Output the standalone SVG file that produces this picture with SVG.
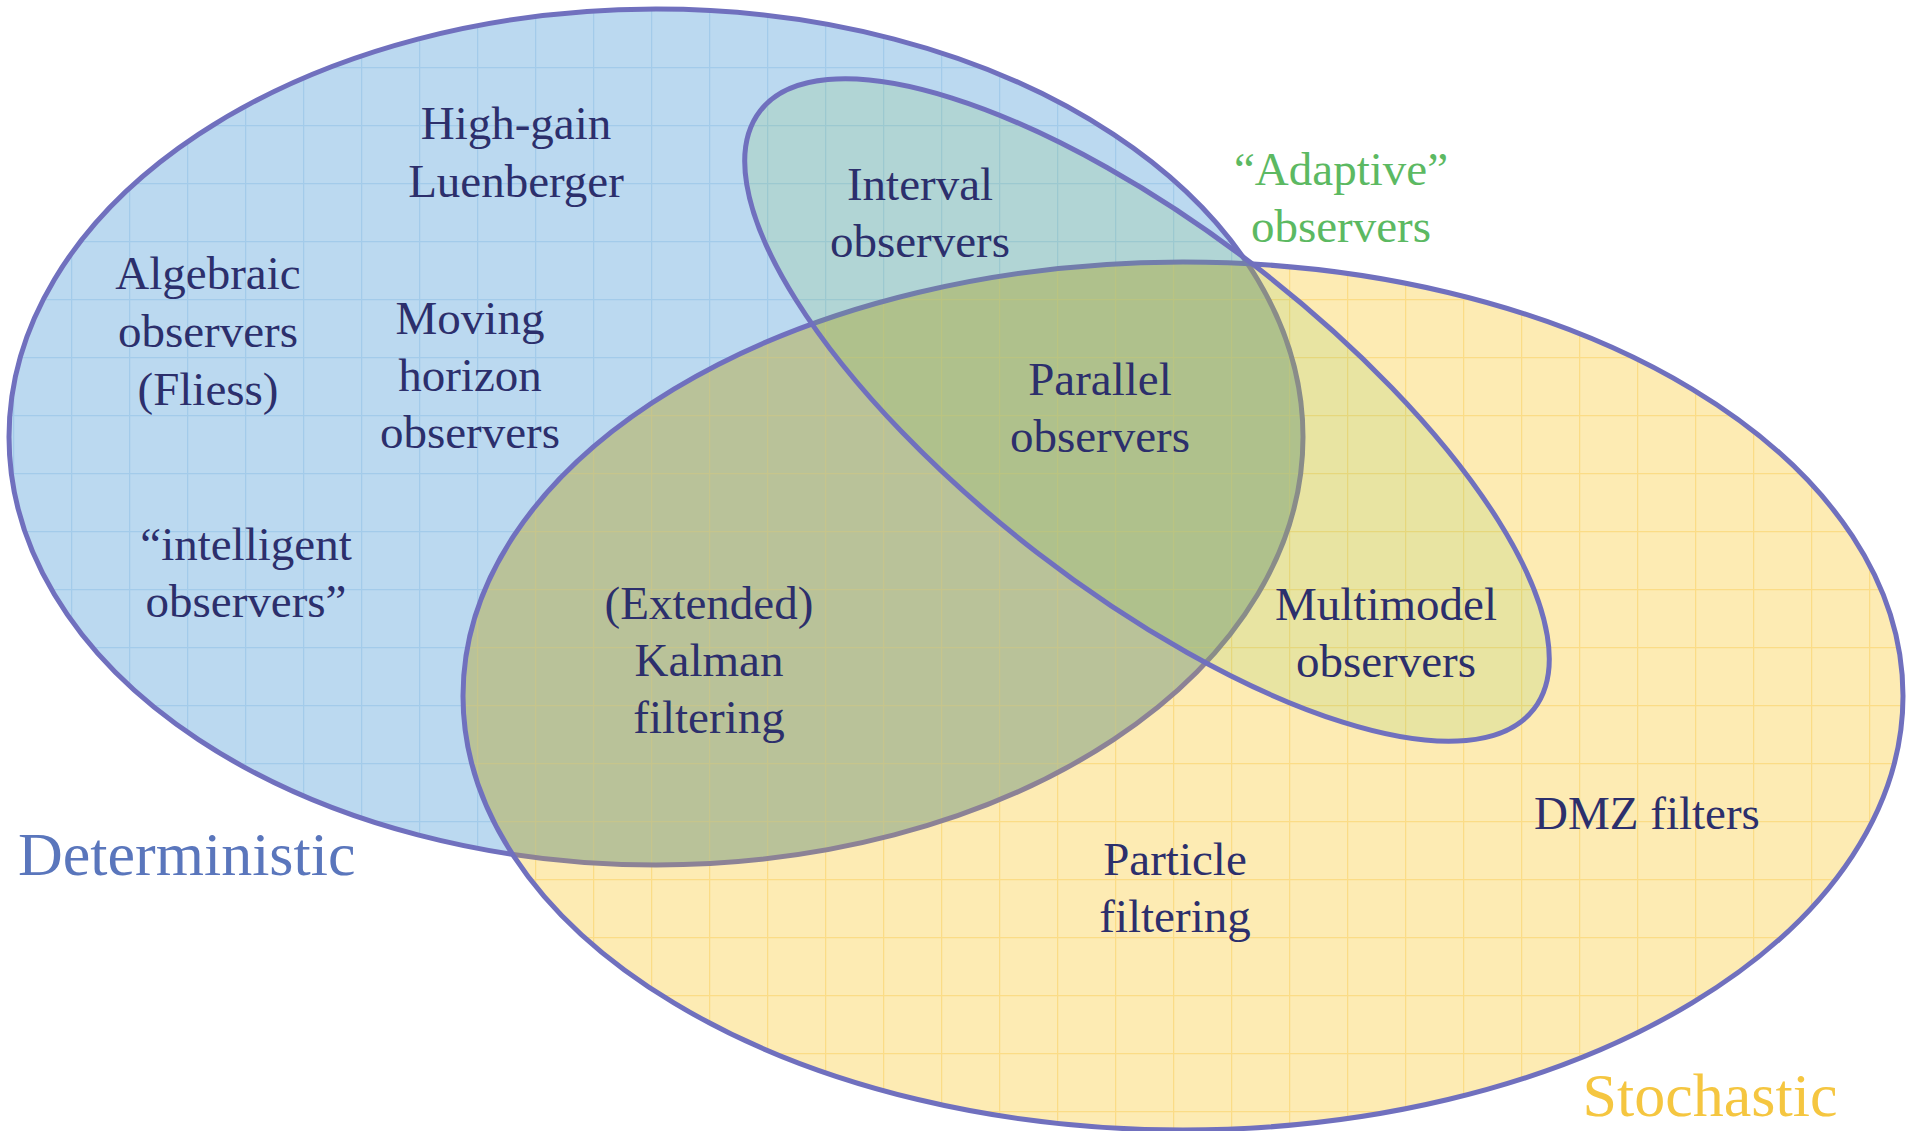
<svg xmlns="http://www.w3.org/2000/svg" width="1908" height="1131" viewBox="0 0 1908 1131">
<style>
.lbl{font-family:"Liberation Serif","Times New Roman",serif;font-size:47px;fill:#2c2f6c;text-anchor:middle}
.big{font-family:"Liberation Serif","Times New Roman",serif;font-size:62px}
.edge{fill:none;stroke:#7070be;stroke-width:5}
</style>
<defs>
<pattern id="pBlue" patternUnits="userSpaceOnUse" x="13" y="9" width="58" height="58">
<rect width="58" height="58" fill="#bbd9f0"/>
<path d="M0 0.5H58M0.5 0V58" stroke="#a3cbea" stroke-width="1.5"/>
</pattern>
<pattern id="pYellow" patternUnits="userSpaceOnUse" x="13" y="9" width="58" height="58">
<rect width="58" height="58" fill="#fdebb3"/>
<path d="M0 0.5H58M0.5 0V58" stroke="#fbdc86" stroke-width="1.5"/>
</pattern>
<pattern id="pOlive" patternUnits="userSpaceOnUse" x="13" y="9" width="58" height="58">
<rect width="58" height="58" fill="#b9c299"/>
<path d="M0 0.5H58M0.5 0V58" stroke="#c6c58c" stroke-width="1.5"/>
</pattern>
<clipPath id="cBlue"><ellipse cx="656" cy="437" rx="647" ry="428"/></clipPath>
<clipPath id="cYellow"><ellipse cx="1183" cy="696" rx="720" ry="434"/></clipPath>
</defs>
<rect width="1908" height="1131" fill="#ffffff"/>
<g id="deterministic-set">
<ellipse cx="656" cy="437" rx="647" ry="428" fill="url(#pBlue)"/>
<ellipse class="edge" cx="656" cy="437" rx="647" ry="428"/>
</g>
<g id="stochastic-set">
<ellipse cx="1183" cy="696" rx="720" ry="434" fill="url(#pYellow)"/>
<ellipse cx="1183" cy="696" rx="720" ry="434" fill="url(#pOlive)" clip-path="url(#cBlue)"/>
<ellipse cx="656" cy="437" rx="647" ry="428" fill="none" stroke="#8c8296" stroke-width="5" clip-path="url(#cYellow)"/>
<ellipse class="edge" cx="1183" cy="696" rx="720" ry="434"/>
</g>
<g id="adaptive-set">
<ellipse cx="1147" cy="410" rx="489" ry="180" transform="rotate(37.7 1147 410)" fill="#7cc04a" fill-opacity="0.16" stroke="#7070be" stroke-width="5"/>
</g>
<g id="connectors"></g>
<g id="high-gain"><text class="lbl" x="516" y="139">High-gain</text><text class="lbl" x="516" y="197">Luenberger</text></g>
<g id="algebraic"><text class="lbl" x="208" y="289">Algebraic</text><text class="lbl" x="208" y="347">observers</text><text class="lbl" x="208" y="405">(Fliess)</text></g>
<g id="moving-horizon"><text class="lbl" x="470" y="334">Moving</text><text class="lbl" x="470" y="391">horizon</text><text class="lbl" x="470" y="448">observers</text></g>
<g id="intelligent"><text class="lbl" x="246" y="560">“intelligent</text><text class="lbl" x="246" y="617">observers”</text></g>
<g id="interval"><text class="lbl" x="920" y="200">Interval</text><text class="lbl" x="920" y="257">observers</text></g>
<g id="adaptive-label"><text class="lbl" x="1341" y="185" style="fill:#5cb962">“Adaptive”</text><text class="lbl" x="1341" y="242" style="fill:#5cb962">observers</text></g>
<g id="parallel"><text class="lbl" x="1100" y="395">Parallel</text><text class="lbl" x="1100" y="452">observers</text></g>
<g id="kalman"><text class="lbl" x="709" y="619">(Extended)</text><text class="lbl" x="709" y="676">Kalman</text><text class="lbl" x="709" y="733">filtering</text></g>
<g id="multimodel"><text class="lbl" x="1386" y="620">Multimodel</text><text class="lbl" x="1386" y="677">observers</text></g>
<g id="dmz"><text class="lbl" x="1647" y="829">DMZ filters</text></g>
<g id="particle"><text class="lbl" x="1175" y="875">Particle</text><text class="lbl" x="1175" y="932">filtering</text></g>
<g id="deterministic-label"><text class="big" x="18" y="875" fill="#5a76bc">Deterministic</text></g>
<g id="stochastic-label"><text class="big" x="1710" y="1116" fill="#f5c640" text-anchor="middle">Stochastic</text></g>
</svg>
